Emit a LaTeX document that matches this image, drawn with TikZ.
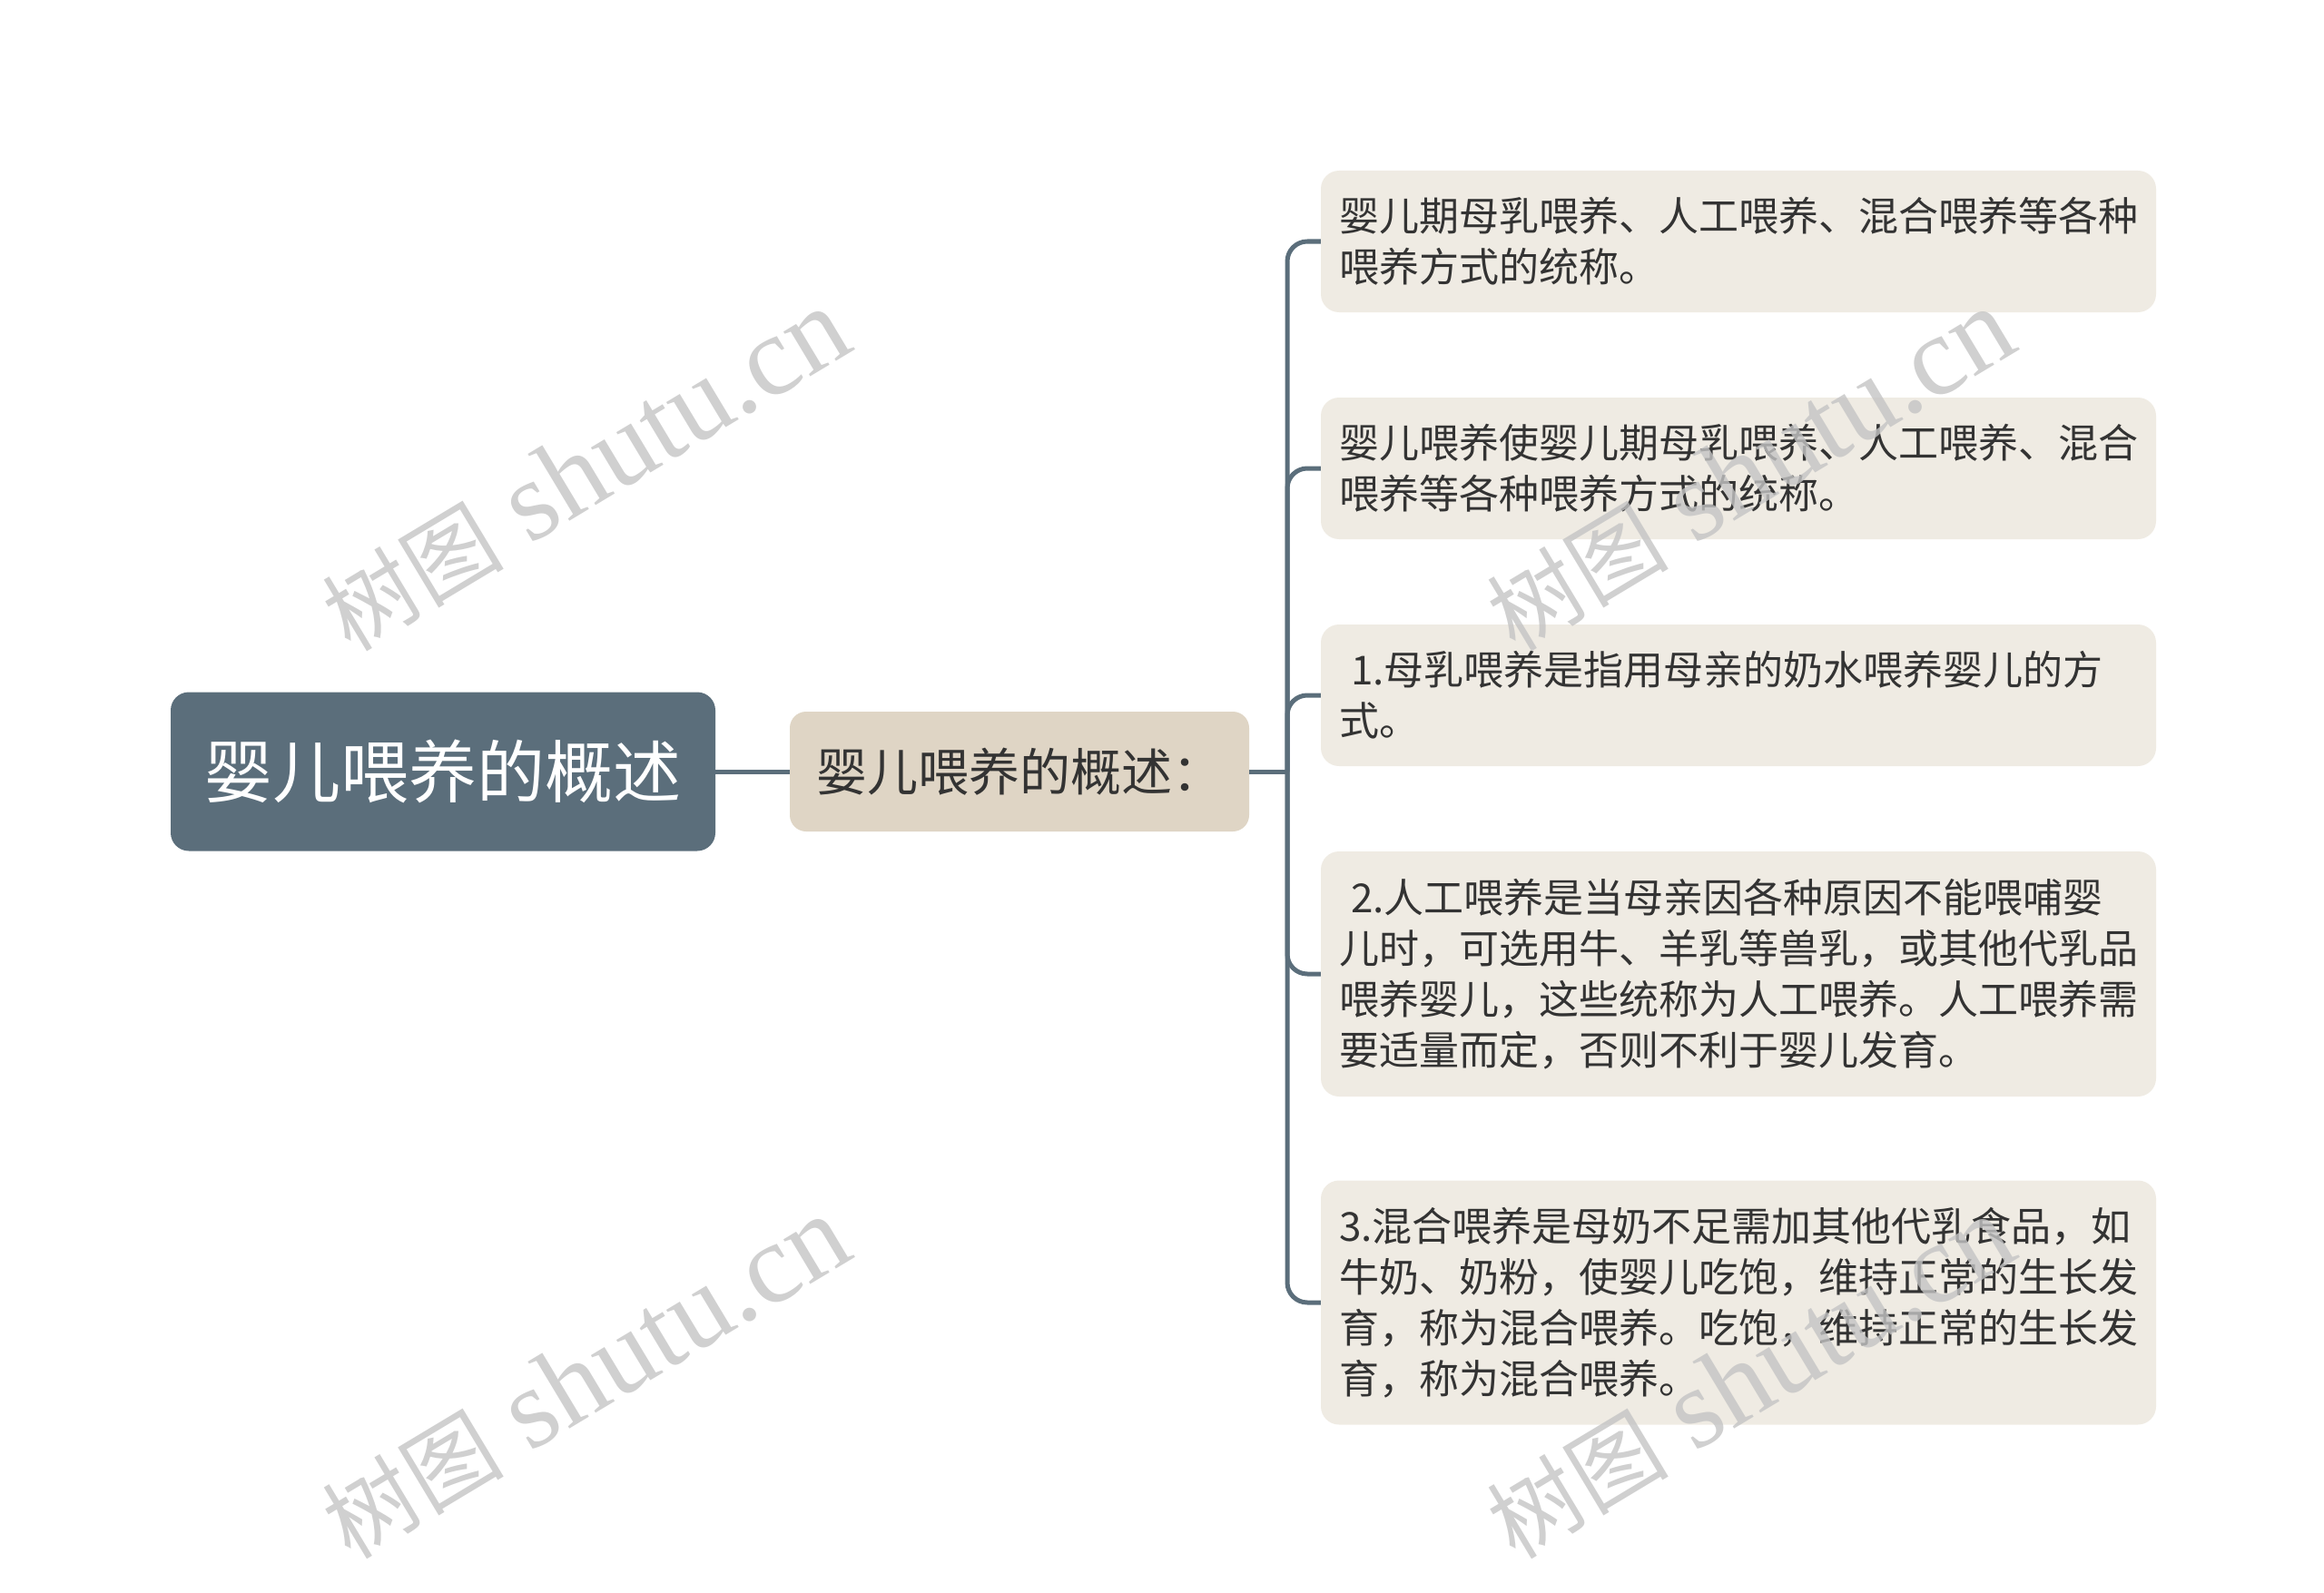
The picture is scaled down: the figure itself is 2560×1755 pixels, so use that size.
\documentclass[tikz,border=0pt]{standalone}
\usepackage{fontspec}
\newfontfamily\cjk{Noto Sans CJK SC}
\newfontfamily\wmlatin{Liberation Serif}
\definecolor{rootc}{HTML}{5B6E7B}
\definecolor{subc}{HTML}{DFD5C5}
\definecolor{leafc}{HTML}{EFEBE3}
\definecolor{linec}{HTML}{5B6E7B}
\definecolor{txtc}{HTML}{333333}
\definecolor{wmc}{HTML}{C4C4C4}
\tikzset{
  rootbox/.style={fill=rootc, rounded corners=20pt, text=white, inner sep=0pt,
    font=\cjk\fontsize{75}{90}\selectfont},
  subbox/.style={fill=subc, rounded corners=18pt, text=txtc, inner sep=0pt,
    font=\cjk\fontsize{56}{68}\selectfont},
  leafbox/.style={fill=leafc, rounded corners=20pt, text=txtc, inner xsep=20pt, inner ysep=0pt,
    text width=880pt, align=left, minimum width=920pt,
    font=\cjk\fontsize{44}{56}\selectfont},
  conn/.style={draw=linec, line width=5pt},
  wmark/.style={text=wmc, opacity=0.8, rotate=31, inner sep=0pt}
}
\begin{document}
\begin{tikzpicture}[x=1pt,y=-1pt]
\useasboundingbox (0,0) rectangle (2560,1755);
\node[rootbox, minimum width=600pt, minimum height=175pt] (root) at (488,850) {婴儿喂养的概述};
\node[subbox, minimum width=506pt, minimum height=132pt] (sub) at (1123,850) {婴儿喂养的概述：};
\node[leafbox, minimum height=156pt] (l1) at (1915,266) {婴儿期母乳喂养、人工喂养、混合喂养等各种\\喂养方式的统称。};
\node[leafbox, minimum height=156pt] (l2) at (1915,516) {婴儿喂养使婴儿期母乳喂养、人工喂养、混合\\喂养等各种喂养方式的统称。};
\node[leafbox, minimum height=156pt] (l3) at (1915,766) {\hspace*{0.3em}1.母乳喂养是指用母亲的奶水喂养婴儿的方\\式。};
\node[leafbox, minimum height=270pt] (l4) at (1915,1073) {\hspace*{0.3em}2.人工喂养是当母亲因各种原因不能喂哺婴\\儿时，可选用牛、羊乳等兽乳，或其他代乳品\\喂养婴儿，这些统称为人工喂养。人工喂养需\\要适量而定，否则不利于婴儿发育。};
\node[leafbox, minimum height=269pt] (l5) at (1915,1435) {3.混合喂养是母奶不足需加其他代乳食品，如\\牛奶、奶粉，使婴儿吃饱，维持正常的生长发\\育，称为混合喂养。吃饱，维持正常的生长发\\育，称为混合喂养。};
\coordinate (tr) at (1418,850);
\draw[conn] (root.east) -- (sub.west);
\draw[conn] (sub.east) -- (tr);
\foreach \n in {l1,l2,l3,l4,l5}{
  \draw[conn, rounded corners=22pt] (tr) |- (\n.west);
}
\foreach \p [count=\i] in {{(645,518)},{(1928,518)},{(645,1518)},{(1928,1518)}}{
  \node[wmark] (wm\i) at \p {{\cjk\fontsize{100}{110}\selectfont 树图}\hspace{30pt}{\wmlatin\fontsize{125}{130}\selectfont shutu.cn}};
}
\end{tikzpicture}
\end{document}
